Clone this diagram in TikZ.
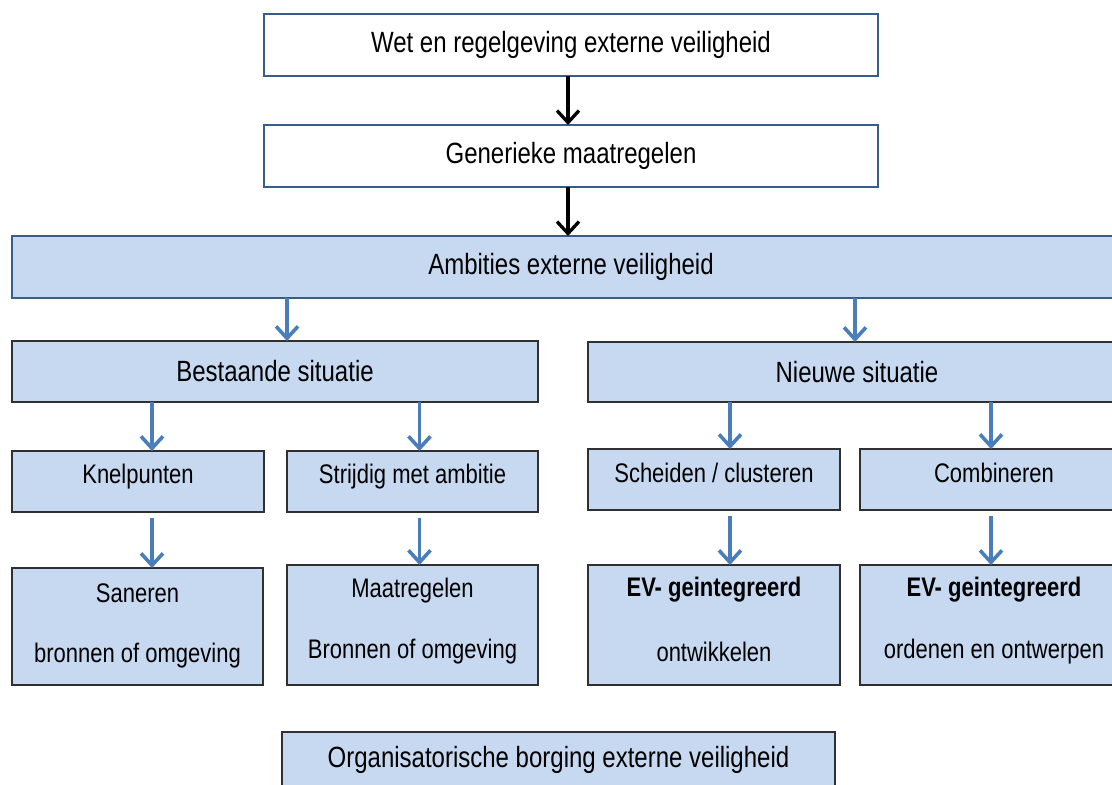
\documentclass[tikz,border=0pt]{standalone}
\usepackage{fontspec}
\usepackage{graphicx}
\setmainfont{Liberation Sans}
\usetikzlibrary{arrows.meta,calc}
\definecolor{boxfill}{HTML}{C6D9F1}
\definecolor{boxblue}{HTML}{385D8A}
\definecolor{arrblue}{HTML}{4A7EBB}
\definecolor{boxgray}{HTML}{303030}
\newcommand{\vs}[1]{\scalebox{1}[1.22]{#1}}
\newcommand{\bigfont}{\fontsize{24}{28}\selectfont}
\newcommand{\smallfont}{\fontsize{22}{26}\selectfont}
\tikzset{
  base/.style={inner sep=0pt, outer sep=0pt, anchor=north west},
  topbox/.style={base, draw=boxblue, line width=2pt, fill=white, font=\bigfont},
  ambbox/.style={base, draw=boxblue, line width=2.5pt, fill=boxfill, font=\bigfont},
  bluebox/.style={base, draw=boxgray, line width=1.6pt, fill=boxfill},
  bigtxt/.style={inner sep=0pt, font=\bigfont},
  smalltxt/.style={inner sep=0pt, font=\smallfont},
  karr/.style={line width=3.3pt, black, -{Straight Barb[length=12pt,width=22pt]}},
  barr/.style={line width=3.6pt, arrblue, -{Straight Barb[length=12pt,width=22pt]}},
}
\begin{document}
\begin{tikzpicture}[x=1pt,y=-1pt]
\useasboundingbox (0,0) rectangle (1112,785);
% top
\node[topbox, minimum width=614pt, minimum height=62pt] (wet) at (264,14) {\vs{Wet en regelgeving externe veiligheid}};
\node[topbox, minimum width=614pt, minimum height=62pt] (gen) at (264,125) {\vs{Generieke maatregelen}};
\node[ambbox, minimum width=1118pt, minimum height=62pt] (amb) at (12,236) {\vs{Ambities externe veiligheid}};
% level 2
\node[bluebox, font=\bigfont, minimum width=526pt, minimum height=61pt] (best) at (12,341) {\vs{Bestaande situatie}};
\node[bluebox, font=\bigfont, minimum width=538pt, minimum height=60pt] (nieuw) at (588,342) {\vs{Nieuwe situatie}};
% level 3
\node[bluebox, minimum width=252pt, minimum height=61pt] (knel) at (12,451) {};
\node[bluebox, minimum width=251pt, minimum height=61pt] (strij) at (287,451) {};
\node[bluebox, minimum width=252pt, minimum height=61pt] (scheid) at (588,449) {};
\node[bluebox, minimum width=268pt, minimum height=61pt] (comb) at (860,449) {};
\node[smalltxt] (tknel) at ([yshift=-26pt]knel.north) {\vs{Knelpunten}};
\node[smalltxt] (tstrij) at ([yshift=-26pt]strij.north) {\vs{Strijdig met ambitie}};
\node[smalltxt] (tscheid) at ([yshift=-24pt]scheid.north) {\vs{Scheiden / clusteren}};
\node[smalltxt] (tcomb) at ([yshift=-24pt]comb.north) {\vs{Combineren}};
% level 4
\node[bluebox, minimum width=251pt, minimum height=117pt] (san) at (12,568) {};
\node[bluebox, minimum width=251pt, minimum height=120pt] (maat) at (287,565) {};
\node[bluebox, minimum width=252pt, minimum height=120pt] (ev1) at (588,565) {};
\node[bluebox, minimum width=268pt, minimum height=120pt] (ev2) at (860,565) {};
\node[smalltxt] (tsan1) at ([yshift=-25pt]san.north) {\vs{Saneren}};
\node[smalltxt] (tsan2) at ([yshift=-88pt]san.north) {\vs{bronnen of omgeving}};
\node[smalltxt] (tmaat1) at ([yshift=-26pt]maat.north) {\vs{Maatregelen}};
\node[smalltxt] (tmaat2) at ([yshift=-87pt]maat.north) {\vs{Bronnen of omgeving}};
\node[smalltxt, font=\smallfont\bfseries] (tev1a) at ([yshift=-25pt]ev1.north) {\vs{EV- geintegreerd}};
\node[smalltxt] (tev1b) at ([yshift=-87pt]ev1.north) {\vs{ontwikkelen}};
\node[smalltxt, font=\smallfont\bfseries] (tev2a) at ([yshift=-25pt]ev2.north) {\vs{EV- geintegreerd}};
\node[smalltxt] (tev2b) at ([yshift=-87pt]ev2.north) {\vs{ordenen en ontwerpen}};
% bottom
\node[bluebox, minimum width=553pt, minimum height=80pt] (org) at (282,732) {};
\node[bigtxt] (torg) at ([yshift=-28pt]org.north) {\vs{Organisatorische borging externe veiligheid}};
% arrows
\draw[karr] ([xshift=-3pt]wet.south) -- ([xshift=-3pt]gen.north);
\draw[karr] ([xshift=-3pt]gen.south) -- ([xshift=-3pt]gen.south |- amb.north);
\draw[barr] ([xshift=12pt]best.north |- amb.south) -- ([xshift=12pt]best.north);
\draw[barr] ([xshift=-2pt]nieuw.north |- amb.south) -- ([xshift=-2pt]nieuw.north);
\draw[barr] ([xshift=14pt]knel.north |- best.south) -- ([xshift=14pt]knel.north);
\draw[barr] ([xshift=7pt]strij.north |- best.south) -- ([xshift=7pt]strij.north);
\draw[barr] ([xshift=16pt]scheid.north |- nieuw.south) -- ([xshift=16pt]scheid.north);
\draw[barr] ([xshift=-3pt]comb.north |- nieuw.south) -- ([xshift=-3pt]comb.north);
\draw[barr, shorten <=6pt] ([xshift=14pt]knel.south) -- ([xshift=14pt]knel.south |- san.north);
\draw[barr, shorten <=6pt] ([xshift=7pt]strij.south) -- ([xshift=7pt]strij.south |- maat.north);
\draw[barr, shorten <=6pt] ([xshift=16pt]scheid.south) -- ([xshift=16pt]scheid.south |- ev1.north);
\draw[barr, shorten <=6pt] ([xshift=-3pt]comb.south) -- ([xshift=-3pt]comb.south |- ev2.north);
\end{tikzpicture}
\end{document}
